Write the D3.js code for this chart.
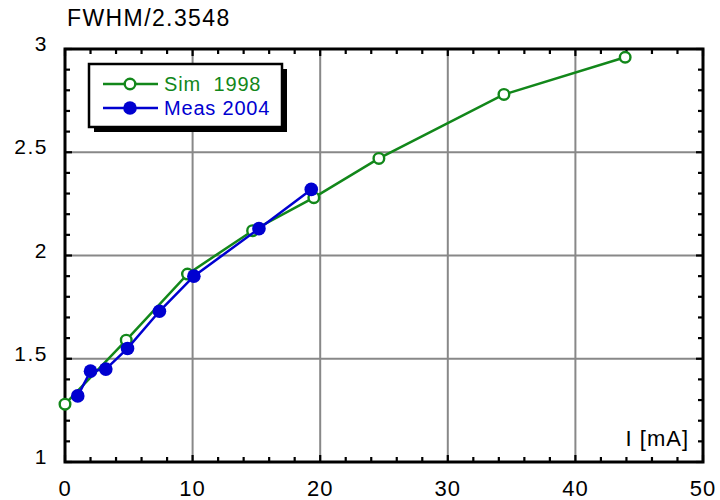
<!DOCTYPE html>
<html>
<head>
<meta charset="utf-8">
<script src="https://cdn.jsdelivr.net/npm/d3@7"></script>
<style>
  body { margin: 0; background: #fff; }
  text { font-family: "Liberation Sans", Arial, sans-serif; }
</style>
</head>
<body>
<svg id="chart"></svg>
<script>
// Sim 1998 (open green circles)
const simI = [0, 4.8, 9.6, 14.7, 19.5, 24.6, 34.4, 43.9];
const simW = [1.28, 1.59, 1.91, 2.12, 2.28, 2.47, 2.78, 2.96];
// Meas 2004 (filled blue circles)
const measI = [1.0, 2.0, 3.2, 4.9, 7.4, 10.1, 15.2, 19.3];
const measW = [1.32, 1.44, 1.45, 1.55, 1.73, 1.90, 2.13, 2.32];

const xTicks = [0, 10, 20, 30, 40, 50];
const yTicks = [1, 1.5, 2, 2.5, 3];
const seriesNames = ["Sim  1998", "Meas 2004"];

const width = 720, height = 500;
const margin = { top: 49, right: 17, bottom: 38, left: 65 };
const innerW = width - margin.left - margin.right;
const innerH = height - margin.top - margin.bottom;

const green = "#12871a", blue = "#0000d0";

const svg = d3.select("#chart").attr("width", width).attr("height", height);
const chart = svg.append("g").attr("transform", `translate(${margin.left},${margin.top})`);

const x = d3.scaleLinear().domain([0, 50]).range([0, innerW]);
const y = d3.scaleLinear().domain([1, 3]).range([innerH, 0]);

// grid
chart.append("g").selectAll("line")
  .data(xTicks.slice(1, -1))
  .join("line")
  .attr("x1", d => x(d)).attr("x2", d => x(d))
  .attr("y1", 0).attr("y2", innerH)
  .attr("stroke", "#888").attr("stroke-width", 2);
chart.append("g").selectAll("line")
  .data(yTicks.slice(1, -1))
  .join("line")
  .attr("y1", d => y(d)).attr("y2", d => y(d))
  .attr("x1", 0).attr("x2", innerW)
  .attr("stroke", "#888").attr("stroke-width", 2);

// inward ticks on all four sides
const xMinor = d3.range(0, 50.01, 2);
const yMinor = d3.range(1, 3.001, 0.1);
const tk = chart.append("g").attr("stroke", "#000").attr("stroke-width", 2.2);
xMinor.forEach(v => {
  const len = Math.abs(v % 10) < 1e-6 ? 7 : 5;
  tk.append("line").attr("x1", x(v)).attr("x2", x(v)).attr("y1", innerH).attr("y2", innerH - len);
  tk.append("line").attr("x1", x(v)).attr("x2", x(v)).attr("y1", 0).attr("y2", len);
});
yMinor.forEach(v => {
  const major = Math.abs(v * 2 - Math.round(v * 2)) < 1e-6;
  const len = major ? 7 : 5;
  tk.append("line").attr("y1", y(v)).attr("y2", y(v)).attr("x1", 0).attr("x2", len);
  tk.append("line").attr("y1", y(v)).attr("y2", y(v)).attr("x1", innerW).attr("x2", innerW - len);
});

// frame
chart.append("rect")
  .attr("width", innerW).attr("height", innerH)
  .attr("fill", "none").attr("stroke", "#000").attr("stroke-width", 3);

// tick labels
chart.append("g").selectAll("text")
  .data(xTicks)
  .join("text")
  .attr("x", d => x(d)).attr("y", innerH + 34)
  .attr("text-anchor", "middle")
  .style("font-size", "22px").style("letter-spacing", "1px")
  .text(d => d);
chart.append("g").selectAll("text")
  .data(yTicks)
  .join("text")
  .attr("x", -17).attr("y", d => y(d) + 2)
  .attr("text-anchor", "end")
  .style("font-size", "21px").style("letter-spacing", "1.5px")
  .text(d => d);

// axis titles
svg.append("text")
  .attr("x", 67).attr("y", 26)
  .style("font-size", "23px").style("letter-spacing", "1.4px")
  .text("FWHM/2.3548");
chart.append("text")
  .attr("x", innerW - 14).attr("y", innerH - 16)
  .attr("text-anchor", "end")
  .style("font-size", "22px").style("letter-spacing", "1px")
  .text("I [mA]");

// series
const line = d3.line().x(d => x(d[0])).y(d => y(d[1]));
const simPts = d3.zip(simI, simW);
const measPts = d3.zip(measI, measW);

chart.append("path").datum(simPts).attr("d", line)
  .attr("fill", "none").attr("stroke", green).attr("stroke-width", 2.5);
chart.append("g").selectAll("circle")
  .data(simPts).join("circle")
  .attr("cx", d => x(d[0])).attr("cy", d => y(d[1])).attr("r", 5.3)
  .attr("fill", "#fff").attr("stroke", green).attr("stroke-width", 2.4);

chart.append("path").datum(measPts).attr("d", line)
  .attr("fill", "none").attr("stroke", blue).attr("stroke-width", 2.5);
chart.append("g").selectAll("circle")
  .data(measPts).join("circle")
  .attr("cx", d => x(d[0])).attr("cy", d => y(d[1])).attr("r", 6.8)
  .attr("fill", blue);

// legend
const lg = svg.append("g").attr("transform", "translate(89,64)");
lg.append("rect").attr("x", 5).attr("y", 5).attr("width", 193).attr("height", 63).attr("fill", "#000");
lg.append("rect").attr("width", 193).attr("height", 63)
  .attr("fill", "#fff").attr("stroke", "#000").attr("stroke-width", 2.5);
const colors = [green, blue];
seriesNames.forEach((name, i) => {
  const yy = 20 + i * 24;
  lg.append("line").attr("x1", 14).attr("x2", 69).attr("y1", yy).attr("y2", yy)
    .attr("stroke", colors[i]).attr("stroke-width", 2.5);
  lg.append("circle").attr("cx", 41).attr("cy", yy)
    .attr("r", i === 0 ? 5.3 : 6.8)
    .attr("fill", i === 0 ? "#fff" : blue)
    .attr("stroke", i === 0 ? green : "none").attr("stroke-width", 2.4);
  lg.append("text").attr("x", 75).attr("y", yy + 7)
    .attr("fill", colors[i])
    .style("font-size", "20px").style("letter-spacing", "0.8px")
    .style("white-space", "pre")
    .text(name);
});
</script>
</body>
</html>
